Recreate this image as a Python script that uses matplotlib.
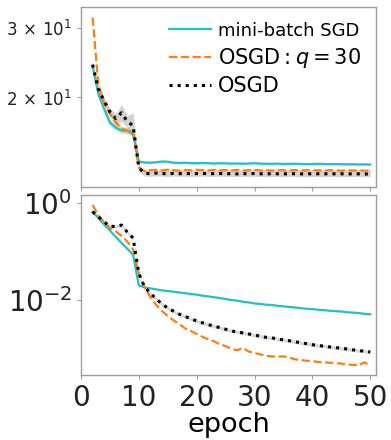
import matplotlib
matplotlib.use("Agg")
import matplotlib.pyplot as plt
import numpy as np
from matplotlib.ticker import FixedLocator, NullLocator, FixedFormatter

# ---------------- data ----------------
epochs = list(range(2, 51))

# top panel (log scale, ~12-32)
sgd_top = [24.0, 20.4, 18.7, 17.3, 16.8, 16.5, 16.5, 16.2, 13.8,
           13.72, 13.70, 13.74, 13.80, 13.78, 13.70, 13.68, 13.70, 13.67, 13.66,
           13.68, 13.66, 13.64, 13.66, 13.65, 13.63, 13.64, 13.62, 13.64, 13.66,
           13.63, 13.62, 13.61, 13.63, 13.60, 13.61, 13.62, 13.60, 13.59, 13.60,
           13.61, 13.60, 13.58, 13.59, 13.58, 13.57, 13.58, 13.56, 13.57, 13.56]
osgdq_top = [31.8, 21.5, 19.3, 18.2, 17.3, 16.7, 16.5, 16.3, 13.3,
             13.05, 13.12, 13.15, 13.10, 13.16, 13.12, 13.08, 13.14, 13.10, 13.15,
             13.12, 13.09, 13.15, 13.11, 13.13, 13.10, 13.14, 13.09, 13.12, 13.14,
             13.10, 13.12, 13.09, 13.13, 13.11, 13.10, 13.13, 13.09, 13.12, 13.10,
             13.11, 13.09, 13.12, 13.10, 13.08, 13.11, 13.09, 13.10, 13.08, 13.10]
osgd_top = [24.2, 21.0, 19.6, 18.4, 17.7, 18.3, 17.4, 17.0, 13.3,
            12.88, 12.86, 12.90, 12.87, 12.85, 12.88, 12.86, 12.87, 12.85, 12.86,
            12.88, 12.85, 12.86, 12.87, 12.85, 12.86, 12.84, 12.86, 12.85, 12.87,
            12.85, 12.84, 12.86, 12.85, 12.84, 12.86, 12.85, 12.84, 12.85, 12.84,
            12.85, 12.84, 12.86, 12.84, 12.85, 12.83, 12.85, 12.84, 12.83, 12.84]

sgd_top_std = [0.30, 0.40, 0.40, 0.40, 0.35, 0.30, 0.30, 0.25, 0.10,
               0.08, 0.08, 0.08, 0.09, 0.08, 0.08, 0.08, 0.08, 0.08, 0.08,
               0.08, 0.08, 0.08, 0.08, 0.08, 0.08, 0.08, 0.08, 0.08, 0.08,
               0.08, 0.08, 0.08, 0.08, 0.08, 0.08, 0.08, 0.08, 0.08, 0.08,
               0.08, 0.08, 0.08, 0.08, 0.08, 0.08, 0.08, 0.08, 0.08, 0.08]
osgdq_top_std = [0.30, 0.40, 0.40, 0.35, 0.30, 0.30, 0.30, 0.25, 0.10,
                 0.10, 0.10, 0.10, 0.10, 0.10, 0.10, 0.10, 0.10, 0.10, 0.10,
                 0.10, 0.10, 0.10, 0.10, 0.10, 0.10, 0.10, 0.10, 0.10, 0.10,
                 0.10, 0.10, 0.10, 0.10, 0.10, 0.10, 0.10, 0.10, 0.10, 0.10,
                 0.10, 0.10, 0.10, 0.10, 0.10, 0.10, 0.10, 0.10, 0.10, 0.10]
osgd_top_std = [0.30, 0.40, 0.40, 0.40, 0.50, 0.90, 0.60, 1.30, 0.30,
                0.20, 0.20, 0.20, 0.20, 0.20, 0.20, 0.20, 0.20, 0.20, 0.20,
                0.20, 0.20, 0.20, 0.20, 0.20, 0.20, 0.20, 0.20, 0.20, 0.20,
                0.20, 0.20, 0.20, 0.20, 0.20, 0.20, 0.20, 0.20, 0.20, 0.20,
                0.20, 0.20, 0.20, 0.20, 0.20, 0.20, 0.20, 0.20, 0.20, 0.20]

# bottom panel (log scale)
sgd_bot = [0.65, 0.49, 0.36, 0.27, 0.20, 0.15, 0.114, 0.085, 0.020,
           0.0182, 0.0174, 0.0166, 0.0158, 0.0153, 0.0148, 0.0143, 0.0138, 0.0133, 0.0129,
           0.0123, 0.0119, 0.0114, 0.0110, 0.0105, 0.0100, 0.0097, 0.0092, 0.0089, 0.0085,
           0.0083, 0.0080, 0.0079, 0.0076, 0.0074, 0.0072, 0.0070, 0.0068, 0.0066, 0.0065,
           0.0063, 0.0062, 0.0060, 0.0059, 0.0058, 0.0056, 0.0055, 0.0054, 0.0052, 0.0051]
osgdq_bot = [0.91, 0.55, 0.40, 0.30, 0.26, 0.21, 0.16, 0.11, 0.035,
             0.018, 0.0115, 0.0079, 0.0059, 0.0047, 0.0038, 0.0032, 0.0026, 0.0023, 0.0020,
             0.00174, 0.00155, 0.00141, 0.00123, 0.00112, 0.00098, 0.00093, 0.00102, 0.00087, 0.00081,
             0.00076, 0.00071, 0.00069, 0.00068, 0.00069, 0.00066, 0.00060, 0.00058, 0.00056, 0.00055,
             0.00053, 0.00052, 0.00051, 0.00050, 0.00049, 0.00047, 0.00046, 0.00045, 0.00052, 0.00044]
osgd_bot = [0.66, 0.52, 0.41, 0.33, 0.33, 0.35, 0.25, 0.19, 0.035,
            0.0185, 0.0138, 0.0105, 0.0083, 0.0068, 0.0059, 0.0051, 0.0046, 0.0041, 0.0037,
            0.0034, 0.0031, 0.0029, 0.0027, 0.0025, 0.0023, 0.0022, 0.0021, 0.0020, 0.0019,
            0.0018, 0.0017, 0.00166, 0.00158, 0.00151, 0.00145, 0.00138, 0.00132, 0.00126, 0.00120,
            0.00116, 0.00112, 0.00108, 0.00105, 0.00101, 0.00098, 0.00094, 0.00091, 0.00088, 0.00085]
osgd_bot_rel_spread = 0.08

labels = ["mini-batch SGD", r"OSGD$:q=30$", "OSGD"]
xticks = [0, 10, 20, 30, 40, 50]
top_yticks = [20, 30]
top_yticklabels = [r"$2\,\times\,10^{1}$", r"$3\,\times\,10^{1}$"]
bot_yticks = [1e-2, 1e0]
bot_yticklabels = [r"$10^{-2}$", r"$10^{0}$"]

# ---------------- style ----------------
C_SGD = "#22c1c3"
C_Q = "#ff7f0e"
C_O = "black"
SPINE = "0.62"

fig = plt.figure(figsize=(3.91, 4.40), dpi=100)
ax1 = fig.add_axes([81/391, 1-187/440, (376-81)/391, (187-7)/440])
ax2 = fig.add_axes([81/391, 1-375/440, (376-81)/391, (375-195)/440])

x = np.array(epochs)

def style(ax):
    for s in ax.spines.values():
        s.set_color(SPINE)
        s.set_linewidth(1.0)
    ax.tick_params(axis="both", which="both", color=SPINE, length=3, width=0.8,
                   direction="out", labelcolor="#222222")

# top panel
for m, sd, c, ls, lw, lab, fc, fa in [
        (sgd_top, sgd_top_std, C_SGD, "-", 1.6, labels[0], C_SGD, 0.25),
        (osgdq_top, osgdq_top_std, C_Q, "--", 1.6, labels[1], C_Q, 0.25),
        (osgd_top, osgd_top_std, C_O, ":", 2.2, labels[2], "0.5", 0.35)]:
    m = np.array(m); sd = np.array(sd)
    ax1.fill_between(x, m - sd, m + sd, color=fc, alpha=fa, lw=0)
    ax1.plot(x, m, color=c, ls=ls, lw=lw, label=lab)

ax1.set_yscale("log")
ax1.set_ylim(11.9, 33.8)
ax1.set_xlim(0, 51)
ax1.yaxis.set_major_locator(FixedLocator(top_yticks))
ax1.yaxis.set_major_formatter(FixedFormatter(top_yticklabels))
ax1.yaxis.set_minor_locator(NullLocator())
ax1.set_xticks(xticks)
ax1.tick_params(axis="x", labelbottom=False)
ax1.tick_params(axis="y", labelsize=12)
style(ax1)

leg = ax1.legend(loc="upper right", bbox_to_anchor=(1.0, 1.0), frameon=False,
                 fontsize=15, handlelength=2.0, handletextpad=0.35,
                 labelspacing=0.28, borderaxespad=0.4, borderpad=0.3)
leg.get_texts()[0].set_fontsize(13)

# bottom panel
ob = np.array(osgd_bot)
ax2.fill_between(x, ob * (1 - osgd_bot_rel_spread), ob * (1 + osgd_bot_rel_spread),
                 color="0.5", alpha=0.3, lw=0)
ax2.plot(x, sgd_bot, color=C_SGD, ls="-", lw=1.6)
ax2.plot(x, osgdq_bot, color=C_Q, ls="--", lw=1.6)
ax2.plot(x, osgd_bot, color=C_O, ls=":", lw=2.2)
ax2.set_yscale("log")
ax2.set_ylim(2.85e-4, 1.46)
ax2.set_xlim(0, 51)
ax2.yaxis.set_major_locator(FixedLocator(bot_yticks))
ax2.yaxis.set_major_formatter(FixedFormatter(bot_yticklabels))
ax2.yaxis.set_minor_locator(NullLocator())
ax2.set_xticks(xticks)
ax2.tick_params(axis="both", labelsize=20)
ax2.set_xlabel("epoch", fontsize=19.5, labelpad=0)
style(ax2)

fig.savefig("out.png", dpi=100)
